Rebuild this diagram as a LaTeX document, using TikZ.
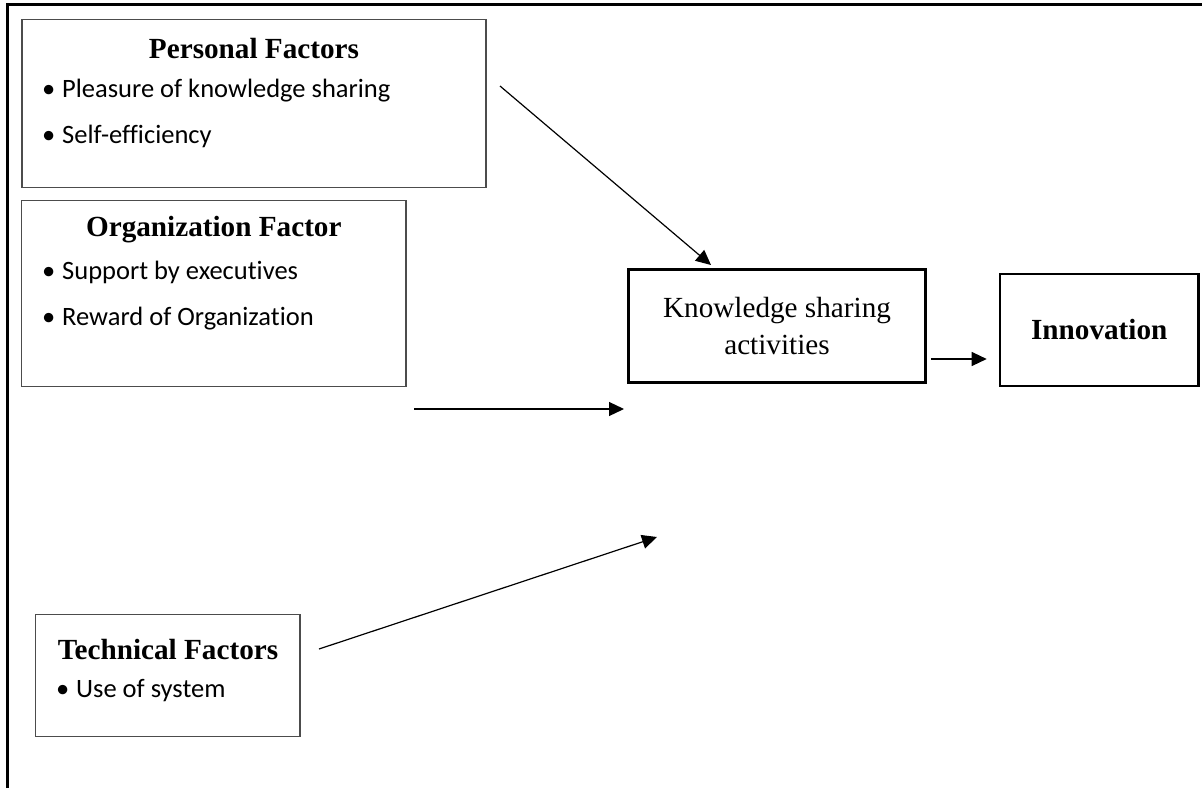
\documentclass[tikz,border=0pt]{standalone}
\usepackage{fontspec}
\setmainfont{Liberation Serif}
\newfontfamily\itemfont[Ligatures=NoCommon]{Carlito}
\usetikzlibrary{arrows.meta}

\newcommand{\bul}{\makebox[20pt][l]{\textbullet}}

\tikzset{
  factorbox/.style={draw=black!70, line width=1.4pt},
  mainbox/.style={draw, line width=2.6pt, align=center},
  heading/.style={anchor=base, inner sep=0pt, font=\bfseries\fontsize{29.2}{35}\selectfont},
  bitem/.style={anchor=base west, inner sep=0pt, font=\itemfont\fontsize{26.5}{30}\selectfont},
  link/.style={-{Triangle[length=15pt, width=14pt]}, line width=1.2pt}
}

\begin{document}
\begin{tikzpicture}[x=1pt, y=-1pt]
    \useasboundingbox (0,0) rectangle (1202,788);

    % frame
    \draw[line width=3pt] (7.5,788) -- (7.5,4) -- (1202,4);

    % factor boxes
    \node(P)[factorbox, minimum width=464, minimum height=168.4] at (254,103.5) {};
    \node(O)[factorbox, minimum width=384.3, minimum height=186] at (213.8,293.7) {};
    \node(T)[factorbox, minimum width=264.3, minimum height=122.4] at (167.8,675.5) {};

    \node(Ph)[heading] at (254,58) {Personal Factors};
    \node(P1)[bitem] at (42,97) {\bul Pleasure of knowledge sharing};
    \node(P2)[bitem] at (42,143) {\bul Self-efficiency};

    \node(Oh)[heading] at (213.8,236) {Organization Factor};
    \node(O1)[bitem] at (42,279) {\bul Support by executives};
    \node(O2)[bitem] at (42,325) {\bul Reward of Organization};

    \node(Th)[heading] at (168,659) {Technical Factors};
    \node(T1)[bitem] at (56,697) {\bul Use of system};

    % activities and result
    \node(K)[mainbox, minimum width=297, minimum height=113,
        font=\fontsize{29.2}{37}\selectfont] at (777,326) {Knowledge sharing\\activities};
    \node(I)[mainbox, minimum width=198.5, minimum height=112,
        font=\bfseries\fontsize{29.2}{35}\selectfont] at (1099.25,330) {Innovation};

    \coordinate (Pout) at (500,86);
    \coordinate (Kin1) at (711,265);
    \coordinate (Oout) at (414,409);
    \coordinate (Kin2) at (624,409);
    \coordinate (Tout) at (319,649);
    \coordinate (Kin3) at (657,537);

    \draw[link] (Pout) -- (Kin1);
    \draw[link] (Oout) -- (Kin2);
    \draw[link] (Tout) -- (Kin3);
    \draw[link] ([shift={(4,33)}]K.east) -- ([shift={(-12,29)}]I.west);
\end{tikzpicture}
\end{document}
